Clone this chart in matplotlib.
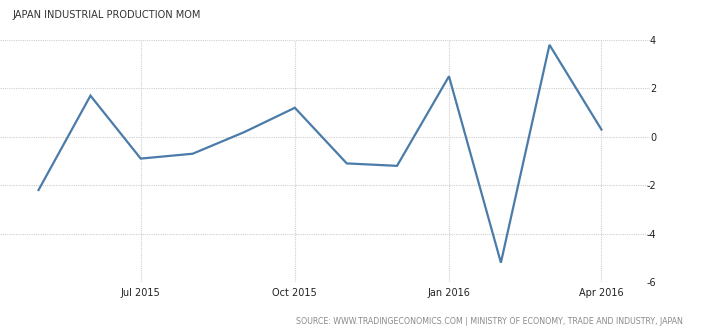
import matplotlib
matplotlib.use("Agg")
import matplotlib.pyplot as plt
import numpy as np
import pandas as pd

dates = ["2015-05-01", "2015-06-01", "2015-07-01", "2015-08-01", "2015-09-01",
         "2015-10-01", "2015-11-01", "2015-12-01", "2016-01-01", "2016-02-01",
         "2016-03-01", "2016-04-01"]
values = [-2.2, 1.7, -0.9, -0.7, 0.2, 1.2, -1.1, -1.2, 2.5, -5.2, 3.8, 0.3]
xtick_dates = ["2015-07-01", "2015-10-01", "2016-01-01", "2016-04-01"]
xtick_labels = ["Jul 2015", "Oct 2015", "Jan 2016", "Apr 2016"]
yticks = [-6, -4, -2, 0, 2, 4]

title = "JAPAN INDUSTRIAL PRODUCTION MOM"
source = "SOURCE: WWW.TRADINGECONOMICS.COM | MINISTRY OF ECONOMY, TRADE AND INDUSTRY, JAPAN"

W, H = 701, 329
fig = plt.figure(figsize=(W / 100, H / 100), dpi=100)
left, right, top, bottom = 0, 650, 40, 282
ax = fig.add_axes([left / W, 1 - bottom / H, (right - left) / W, (bottom - top) / H])

x = pd.to_datetime(dates)
ax.plot(x, values, color="#4b7ba8", lw=1.6, solid_joinstyle="miter")

ax.set_ylim(-6, 4)
ax.set_xlim(pd.Timestamp("2015-04-08"), pd.Timestamp("2016-04-30"))
ax.set_yticks(yticks)
ax.set_yticklabels([str(v) for v in yticks])
ax.set_xticks(pd.to_datetime(xtick_dates))
ax.set_xticklabels(xtick_labels)

ax.yaxis.tick_right()
for lab in ax.get_yticklabels():
    lab.set_horizontalalignment("right")
ax.tick_params(axis="y", length=0, pad=4.4, labelsize=7, labelcolor="#222222")
ax.tick_params(axis="x", length=0, pad=4.5, labelsize=7, labelcolor="#222222")

ax.grid(True, color="#cfcfcf", linestyle=(0, (1, 1)), linewidth=0.8)
ax.set_axisbelow(True)
for s in ax.spines.values():
    s.set_visible(False)

fig.text(12 / W, 1 - 15 / H, title, fontsize=7.1, color="#333333", va="center", ha="left")
fig.text(683 / W, 1 - 322 / H, source, fontsize=5.7, color="#8a8a8a", va="center", ha="right")

fig.savefig("out.png", dpi=100)
